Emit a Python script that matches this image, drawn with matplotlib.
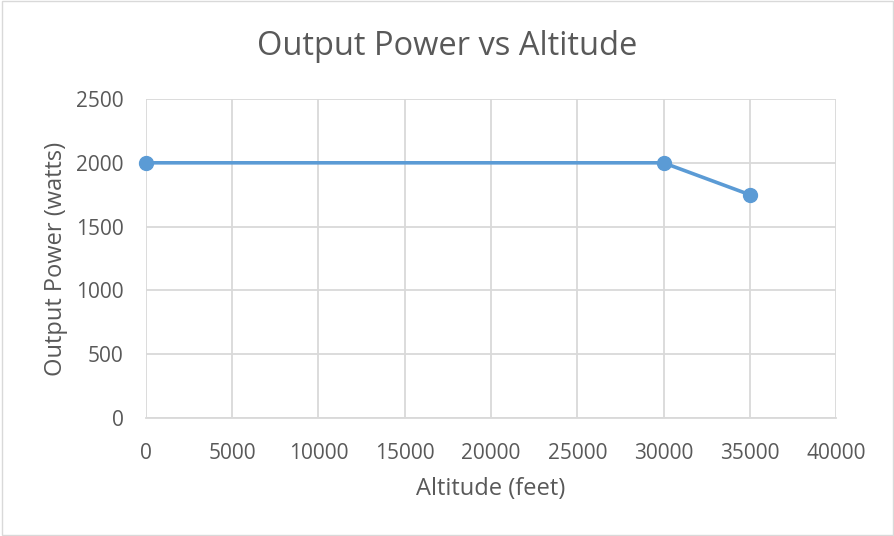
import matplotlib.pyplot as plt
from matplotlib.patches import Rectangle

altitude = [0, 30000, 35000]
power = [2000, 2000, 1750]
x_ticks = list(range(0, 40001, 5000))
y_ticks = list(range(0, 2501, 500))

plt.rcParams['font.family'] = ['Open Sans', 'DejaVu Sans']
text_col = '#595959'
grid_col = '#D9D9D9'

fig = plt.figure(figsize=(8.95, 5.36), dpi=100)
ax = fig.add_axes([0.1631, 0.2201, 0.9341 - 0.1631, 0.8153 - 0.2201])

ax.plot(altitude, power, color='#5B9BD5', linewidth=2.6, marker='o',
        markersize=10, zorder=3, clip_on=False)

ax.set_xlim(0, 40000)
ax.set_ylim(0, 2500)
ax.set_xticks(x_ticks)
ax.set_yticks(y_ticks)
ax.grid(True, color=grid_col, linewidth=1.3)
ax.set_axisbelow(True)
for s in ['top', 'right', 'left']:
    ax.spines[s].set_visible(False)
ax.spines['bottom'].set_color(grid_col)
ax.spines['bottom'].set_linewidth(1.3)
ax.tick_params(length=0, labelsize=15, colors=text_col)
ax.tick_params(axis='x', pad=18)
ax.tick_params(axis='y', pad=16)

# chart title is centred on the whole figure, not the plot area
fig.text(0.5, 1 - 55 / 536, 'Output Power vs Altitude', fontsize=23.5,
         color=text_col, ha='center', va='baseline')
ax.set_xlabel('Altitude (feet)', fontsize=17, color=text_col, labelpad=9)
ax.set_ylabel('Output Power (watts)', fontsize=17, color=text_col, labelpad=6)

fig.patches.append(Rectangle((0.002, 0.002), 0.996, 0.996, transform=fig.transFigure,
                             fill=False, edgecolor=grid_col, linewidth=1))

fig.savefig('out.png', dpi=100)
